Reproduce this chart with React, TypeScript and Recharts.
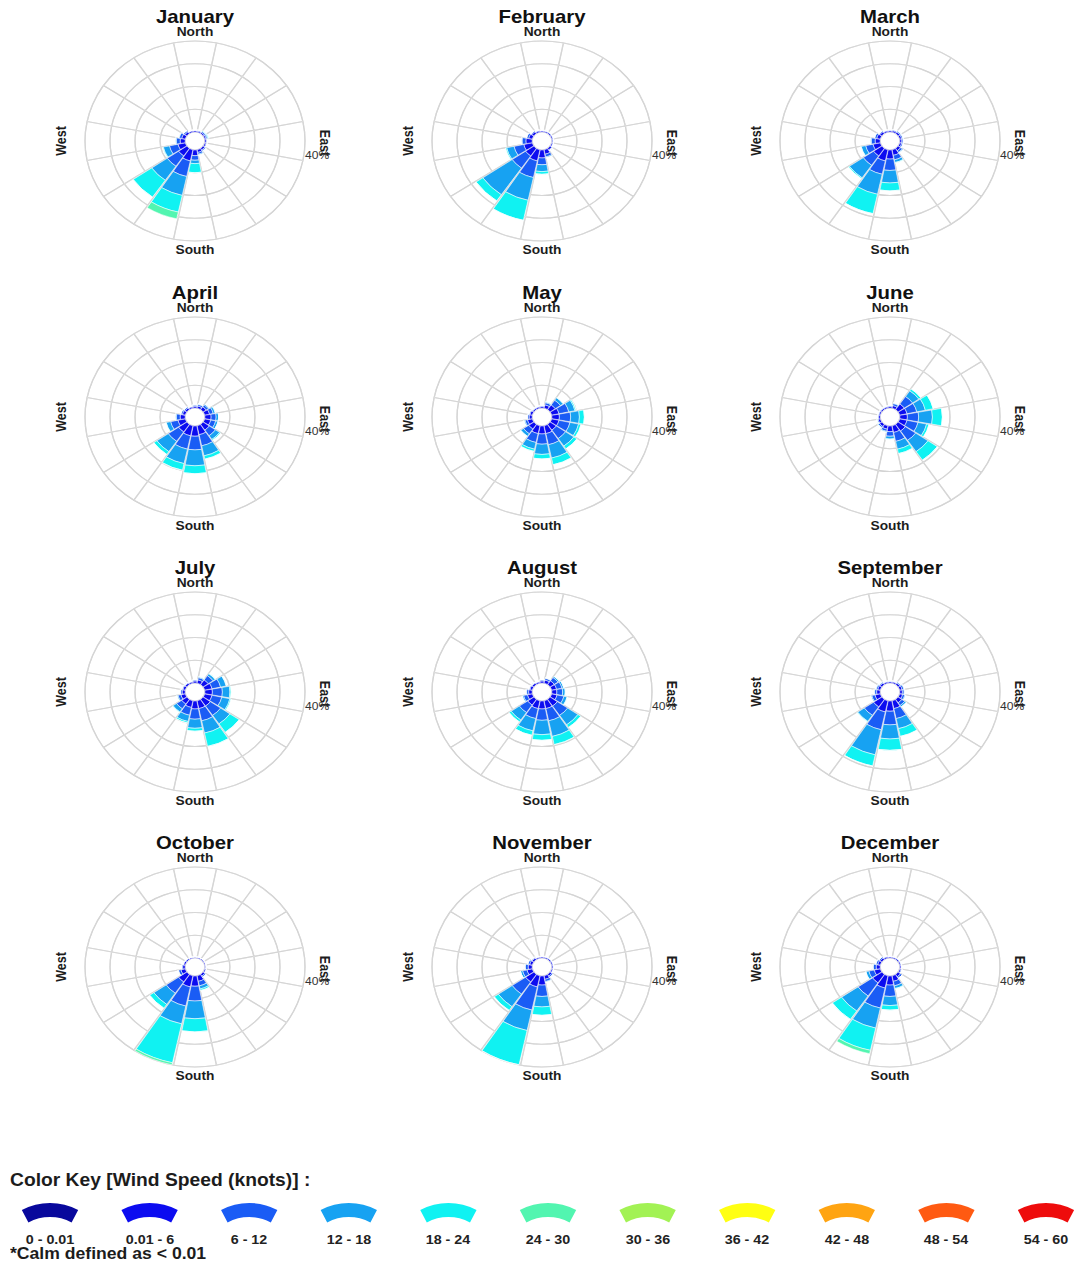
import React from "react";
import {
    RadialBarChart,
    RadialBar,
    PolarAngleAxis,
    PolarRadiusAxis,
    PolarGrid,
    PieChart,
    Pie,
} from "recharts";

// compass sectors, clockwise from north
const DIRECTIONS = ["N", "NNE", "NE", "ENE", "E", "ESE", "SE", "SSE", "S", "SSW", "SW", "WSW", "W", "WNW", "NW", "NNW"];

const KEY_LABELS = ["0 - 0.01", "0.01 - 6", "6 - 12", "12 - 18", "18 - 24", "24 - 30", "30 - 36", "36 - 42", "42 - 48", "48 - 54", "54 - 60"];
const KEY_COLORS = ["#08089c", "#0c0cf0", "#1a5cf5", "#17a2f2", "#10f2f2", "#52f5b0", "#a2f254", "#ffff12", "#ffa412", "#ff5a12", "#ee0c0c"];

// frequency (%) per direction; rows = 0.01-6, 6-12, 12-18, 18-24, 24-30 knots
const JANUARY = [
    [0.6, 0.5, 0.6, 0.6, 0.6, 0.6, 0.8, 1.2, 2.5, 5.0, 4.0, 3.0, 2.0, 1.5, 1.0, 0.6],
    [0.3, 0.4, 0.5, 0.5, 0.4, 0.4, 0.5, 0.8, 2.0, 7.0, 5.5, 3.5, 1.5, 1.0, 0.6, 0.3],
    [0, 0.1, 0.2, 0.3, 0, 0, 0.2, 0.4, 1.5, 8.5, 7.5, 2.5, 0.5, 0.3, 0.1, 0],
    [0, 0, 0.2, 0.3, 0, 0, 0, 0.1, 4.0, 7.5, 9.0, 0.3, 0, 0, 0, 0],
    [0, 0, 0, 0, 0, 0, 0, 0, 0, 3.0, 0, 0, 0, 0, 0, 0],
];
const FEBRUARY = [
    [0.5, 0.5, 0.5, 0.5, 0.4, 0.5, 0.8, 2.0, 3.5, 5.0, 4.0, 3.5, 2.5, 1.5, 1.0, 0.6],
    [0.3, 0.3, 0.3, 0.3, 0.3, 0.3, 0.4, 1.2, 3.0, 7.5, 6.5, 4.0, 1.5, 0.8, 0.5, 0.4],
    [0, 0, 0, 0, 0, 0, 0, 0.5, 3.0, 10.2, 14.2, 3.0, 0.4, 0.2, 0, 0],
    [0, 0, 0, 0, 0, 0, 0, 0, 1.2, 9.0, 3.3, 0.5, 0, 0, 0, 0],
    [0, 0, 0, 0, 0, 0, 0, 0, 0, 0, 0, 0, 0, 0, 0, 0],
];
const MARCH = [
    [0.6, 0.7, 0.8, 0.8, 0.8, 0.8, 1.2, 2.5, 4.0, 5.0, 4.0, 3.0, 2.0, 1.5, 1.0, 0.6],
    [0.4, 0.5, 0.5, 0.5, 0.5, 0.5, 0.9, 2.0, 5.0, 6.0, 5.0, 3.0, 1.5, 0.8, 0.5, 0.4],
    [0, 0, 0.2, 0.2, 0.2, 0.2, 0.4, 1.2, 5.5, 9.0, 6.7, 1.8, 0.5, 0.2, 0, 0],
    [0, 0, 0, 0, 0, 0, 0, 0.3, 3.5, 8.7, 0.5, 0.2, 0, 0, 0, 0],
    [0, 0, 0, 0, 0, 0, 0, 0, 0, 0, 0, 0, 0, 0, 0, 0],
];
const APRIL = [
    [0.8, 1.0, 1.5, 2.0, 2.5, 2.5, 3.0, 4.0, 4.5, 4.5, 4.0, 3.0, 2.0, 1.2, 0.9, 0.6],
    [0.5, 0.7, 1.0, 1.5, 2.0, 2.0, 3.0, 5.0, 6.0, 6.0, 5.0, 3.0, 1.5, 0.6, 0.5, 0.4],
    [0.2, 0.3, 0.5, 0.8, 1.0, 1.0, 2.0, 4.5, 7.0, 6.5, 5.5, 1.8, 0.5, 0.2, 0.1, 0],
    [0, 0, 0, 0.2, 0, 0, 0.5, 1.5, 3.5, 3.0, 1.5, 0.2, 0, 0, 0, 0],
    [0, 0, 0, 0, 0, 0, 0, 0, 0, 0, 0, 0, 0, 0, 0, 0],
];
const MAY = [
    [0.7, 1.5, 2.5, 3.0, 3.0, 3.0, 3.0, 3.5, 3.5, 3.5, 2.5, 2.0, 1.2, 1.0, 0.6, 0.6],
    [0.4, 1.0, 2.5, 4.0, 4.5, 4.5, 4.5, 5.0, 4.5, 4.0, 2.5, 1.0, 0.6, 0.4, 0.3, 0.3],
    [0.1, 0.4, 1.3, 2.5, 3.5, 3.5, 4.0, 6.0, 4.5, 3.0, 1.3, 0.4, 0.2, 0.1, 0.1, 0.1],
    [0, 0.1, 0.2, 0.5, 2.0, 1.0, 1.5, 3.0, 2.0, 1.0, 0.2, 0.1, 0, 0, 0, 0],
    [0, 0, 0, 0, 0, 0, 0, 0, 0, 0, 0, 0, 0, 0, 0, 0],
];
const JUNE = [
    [0.7, 1.2, 3.0, 3.0, 3.0, 3.0, 3.5, 3.0, 2.5, 1.5, 1.1, 0.9, 0.7, 0.6, 0.6, 0.6],
    [0.4, 0.9, 4.0, 4.0, 4.5, 4.5, 5.0, 4.0, 2.0, 1.0, 0.6, 0.4, 0.3, 0.3, 0.3, 0.3],
    [0.1, 0.3, 3.0, 3.5, 5.5, 3.5, 6.0, 3.5, 1.2, 0.4, 0.2, 0.1, 0.1, 0.1, 0.1, 0.1],
    [0, 0.1, 1.0, 3.2, 4.0, 1.0, 4.5, 2.0, 0.3, 0.1, 0.1, 0.1, 0, 0, 0, 0],
    [0, 0, 0, 0, 0, 0, 0, 0, 0, 0, 0, 0, 0, 0, 0, 0],
];
const JULY = [
    [0.9, 1.5, 2.5, 3.0, 3.0, 3.0, 3.5, 3.5, 3.5, 3.0, 2.5, 1.8, 1.2, 1.0, 0.8, 0.6],
    [0.5, 1.0, 2.3, 3.5, 4.0, 4.0, 5.0, 5.5, 4.5, 3.5, 2.5, 1.2, 0.6, 0.4, 0.3, 0.3],
    [0.1, 0.4, 1.0, 2.3, 3.0, 3.3, 4.5, 5.5, 4.0, 2.8, 1.7, 0.4, 0.2, 0.1, 0.1, 0.1],
    [0, 0.1, 0.2, 0.2, 0.5, 0.5, 4.5, 6.0, 1.3, 0.7, 0.3, 0.1, 0, 0, 0, 0],
    [0, 0, 0, 0, 0, 0, 0, 0, 0, 0, 0, 0, 0, 0, 0, 0],
];
const AUGUST = [
    [0.9, 1.4, 2.0, 2.0, 2.0, 2.2, 3.5, 3.5, 3.5, 3.5, 3.0, 2.0, 1.4, 1.0, 0.8, 0.6],
    [0.5, 0.8, 1.8, 2.2, 2.3, 2.8, 5.0, 5.5, 5.0, 4.5, 4.0, 1.6, 0.8, 0.4, 0.3, 0.3],
    [0.1, 0.2, 0.6, 0.7, 1.0, 1.3, 5.0, 7.0, 6.3, 5.5, 4.0, 0.5, 0.3, 0.1, 0.1, 0.1],
    [0, 0.1, 0.1, 0.1, 0.2, 0.2, 1.4, 3.7, 2.5, 2.0, 1.0, 0.1, 0, 0, 0, 0],
    [0, 0, 0, 0, 0, 0, 0, 0, 0, 0, 0, 0, 0, 0, 0, 0],
];
const SEPTEMBER = [
    [0.6, 0.6, 0.8, 1.0, 1.0, 1.2, 1.8, 3.5, 4.5, 5.0, 4.0, 2.2, 1.4, 1.1, 0.9, 0.6],
    [0.3, 0.3, 0.5, 0.7, 0.7, 0.9, 1.4, 4.5, 6.0, 8.0, 4.5, 1.3, 0.8, 0.6, 0.4, 0.3],
    [0.1, 0.1, 0.2, 0.3, 0.3, 0.4, 0.8, 4.5, 6.2, 11.3, 3.2, 0.4, 0.3, 0.3, 0.2, 0.1],
    [0, 0, 0, 0, 0, 0, 0, 3.5, 5.0, 5.0, 0.3, 0.1, 0, 0, 0, 0],
    [0, 0, 0, 0, 0, 0, 0, 0, 0, 0, 0, 0, 0, 0, 0, 0],
];
const OCTOBER = [
    [0.4, 0.4, 0.4, 0.4, 0.4, 0.5, 0.9, 2.5, 4.5, 5.0, 4.0, 1.8, 1.0, 0.7, 0.5, 0.4],
    [0.2, 0.2, 0.2, 0.2, 0.2, 0.3, 0.5, 2.0, 6.5, 8.6, 6.0, 1.0, 0.4, 0.3, 0.3, 0.2],
    [0, 0, 0, 0, 0, 0, 0.1, 1.4, 7.8, 8.0, 6.0, 0.2, 0.1, 0, 0, 0],
    [0, 0, 0, 0, 0, 0, 0, 0.7, 5.8, 17.5, 2.0, 0, 0, 0, 0, 0],
    [0, 0, 0, 0, 0, 0, 0, 0, 0, 1.0, 0, 0, 0, 0, 0, 0],
];
const NOVEMBER = [
    [0.5, 0.5, 0.5, 0.5, 0.5, 0.5, 0.9, 1.6, 4.0, 5.0, 4.0, 2.2, 1.6, 1.1, 0.8, 0.5],
    [0.3, 0.3, 0.3, 0.3, 0.3, 0.3, 0.6, 1.0, 5.0, 10.4, 6.5, 1.8, 1.1, 0.7, 0.5, 0.3],
    [0, 0, 0, 0, 0, 0, 0, 0.4, 4.6, 9.2, 6.7, 0.9, 0.3, 0.2, 0, 0],
    [0, 0, 0, 0, 0, 0, 0, 0, 3.7, 16.0, 2.0, 0, 0, 0, 0, 0],
    [0, 0, 0, 0, 0, 0, 0, 0, 0, 1.5, 0, 0, 0, 0, 0, 0],
];
const DECEMBER = [
    [0.5, 0.5, 0.5, 0.5, 0.5, 0.6, 1.2, 2.5, 4.0, 5.5, 4.5, 2.5, 1.6, 1.1, 0.9, 0.6],
    [0.3, 0.3, 0.3, 0.3, 0.3, 0.4, 0.8, 2.0, 5.0, 9.0, 7.0, 2.2, 1.1, 0.7, 0.6, 0.4],
    [0, 0, 0, 0, 0, 0, 0, 1.2, 4.0, 9.0, 8.0, 1.2, 0.3, 0.2, 0, 0],
    [0, 0, 0, 0, 0, 0, 0, 0.3, 2.0, 10.0, 4.5, 0.1, 0, 0, 0, 0],
    [0, 0, 0, 0, 0, 0, 0, 0, 0, 1.5, 0, 0, 0, 0, 0, 0],
];

const MONTHS = [
    { name: "January", bins: JANUARY },
    { name: "February", bins: FEBRUARY },
    { name: "March", bins: MARCH },
    { name: "April", bins: APRIL },
    { name: "May", bins: MAY },
    { name: "June", bins: JUNE },
    { name: "July", bins: JULY },
    { name: "August", bins: AUGUST },
    { name: "September", bins: SEPTEMBER },
    { name: "October", bins: OCTOBER },
    { name: "November", bins: NOVEMBER },
    { name: "December", bins: DECEMBER },
];

const RING_VALUES = [0, 10, 20, 30, 40];

// layout
const FONT = "'Liberation Sans', Arial, Helvetica, sans-serif";
const STRETCH = 1.1; // the source picture is a bit wider than tall
const COL_X = [195, 542, 890];
const ROW_Y = [141, 416.5, 692, 967];
const PANEL_W = 300;
const PANEL_H = 275;
const CX = 150;
const CY = 141;
const INNER_R = 9;
const OUTER_R = 100;
const SECTOR = 360 / DIRECTIONS.length;

const spokeAngles = DIRECTIONS.map((_, i) => 90 - SECTOR / 2 - i * SECTOR);
const ringRadii = RING_VALUES.map((v) => INNER_R + (v / 40) * (OUTER_R - INNER_R));

const bold = { fontFamily: FONT, fontWeight: 700, color: "#1c1c1c", whiteSpace: "nowrap" as const };

function WindRose({ name, bins }: { name: string; bins: number[][] }) {
    const data = DIRECTIONS.map((dir, i) => ({
        dir,
        s1: bins[0][i],
        s2: bins[1][i],
        s3: bins[2][i],
        s4: bins[3][i],
        s5: bins[4][i],
    }));
    // recharts draws each band from its start angle counter-clockwise,
    // so the range starts half a sector right of north
    const start = 90 - SECTOR / 2;
    return (
        <div style={{ position: "relative", width: PANEL_W, height: PANEL_H }}>
            <RadialBarChart
                width={PANEL_W}
                height={PANEL_H}
                cx={CX}
                cy={CY}
                innerRadius={INNER_R}
                outerRadius={OUTER_R}
                startAngle={start}
                endAngle={start - 360}
                layout="centric"
                data={data}
                barCategoryGap="3%"
                margin={{ top: 0, right: 0, bottom: 0, left: 0 }}
            >
                <PolarGrid gridType="circle" polarAngles={spokeAngles} polarRadius={ringRadii} stroke="#c4c4c4" strokeWidth={1.2} />
                <PolarAngleAxis type="category" dataKey="dir" tick={false} tickLine={false} axisLine={false} />
                <PolarRadiusAxis type="number" domain={[0, 40]} allowDataOverflow tick={false} tickLine={false} axisLine={false} />
                {[1, 2, 3, 4, 5].map((k) => (
                    <RadialBar
                        key={k}
                        dataKey={`s${k}`}
                        stackId="speed"
                        fill={KEY_COLORS[k]}
                        stroke="#ffffff"
                        strokeWidth={0.5}
                        isAnimationActive={false}
                    />
                ))}
                <PolarGrid gridType="circle" polarAngles={spokeAngles} polarRadius={ringRadii} stroke="#eeeeee" strokeOpacity={0.45} strokeWidth={1} />
            </RadialBarChart>
            <div style={{ ...bold, position: "absolute", left: 0, top: 7, width: PANEL_W, textAlign: "center", fontSize: 18.5, lineHeight: "20px", color: "#111" }}>
                {name}
            </div>
            <div style={{ ...bold, position: "absolute", left: 0, top: CY - 117, width: PANEL_W, textAlign: "center", fontSize: 12.5, lineHeight: "16px" }}>
                North
            </div>
            <div style={{ ...bold, position: "absolute", left: 0, top: CY + 101, width: PANEL_W, textAlign: "center", fontSize: 12.5, lineHeight: "16px" }}>
                South
            </div>
            <div style={{ ...bold, position: "absolute", left: CX - 121, top: CY, fontSize: 12.5, lineHeight: "16px", transform: "translate(-50%, -50%) rotate(-90deg)" }}>
                West
            </div>
            <div style={{ ...bold, position: "absolute", left: CX + 118, top: CY + 2, fontSize: 12.5, lineHeight: "16px", transform: "translate(-50%, -50%) rotate(90deg)" }}>
                East
            </div>
            <div style={{ position: "absolute", left: CX + 100, top: CY + 7, fontFamily: FONT, fontSize: 11, lineHeight: "14px", color: "#333" }}>
                40%
            </div>
        </div>
    );
}

const KEY_X0 = 50;
const KEY_STEP = 99.6;

function ColorKey() {
    return (
        <>
            <div style={{ ...bold, position: "absolute", left: 10, top: 1169, fontSize: 17.5, lineHeight: "22px", transform: `scaleX(${STRETCH})`, transformOrigin: "0 0" }}>
                Color Key [Wind Speed (knots)] :
            </div>
            <div style={{ position: "absolute", left: 0, top: 1195 }}>
                <PieChart width={1074} height={40} margin={{ top: 0, right: 0, bottom: 0, left: 0 }}>
                    {KEY_LABELS.map((label, i) => (
                        <Pie
                            key={label}
                            data={[{ name: label, value: 1 }]}
                            dataKey="value"
                            cx={KEY_X0 + i * KEY_STEP}
                            cy={68}
                            startAngle={118}
                            endAngle={62}
                            innerRadius={46}
                            outerRadius={60}
                            fill={KEY_COLORS[i]}
                            stroke="none"
                            isAnimationActive={false}
                        />
                    ))}
                </PieChart>
            </div>
            {KEY_LABELS.map((label, i) => (
                <div
                    key={label}
                    style={{
                        ...bold,
                        position: "absolute",
                        left: KEY_X0 + i * KEY_STEP - 50,
                        top: 1233,
                        width: 100,
                        textAlign: "center",
                        fontSize: 13,
                        lineHeight: "13px",
                        color: "#222",
                        transform: `scaleX(${STRETCH})`,
                    }}
                >
                    {label}
                </div>
            ))}
            <div style={{ ...bold, position: "absolute", left: 10, top: 1246.5, fontSize: 16, lineHeight: "14px", transform: `scaleX(${STRETCH})`, transformOrigin: "0 0" }}>
                *Calm defined as &lt; 0.01
            </div>
        </>
    );
}

export default function App() {
    return (
        <div style={{ position: "absolute", left: 0, top: 0, width: 1074, height: 1266, background: "#fff", overflow: "hidden" }}>
            {MONTHS.map((m, i) => (
                <div
                    key={m.name}
                    style={{
                        position: "absolute",
                        left: COL_X[i % 3] - CX,
                        top: ROW_Y[Math.floor(i / 3)] - CY,
                        transform: `scaleX(${STRETCH})`,
                        transformOrigin: `${CX}px 0`,
                    }}
                >
                    <WindRose name={m.name} bins={m.bins} />
                </div>
            ))}
            <ColorKey />
        </div>
    );
}
